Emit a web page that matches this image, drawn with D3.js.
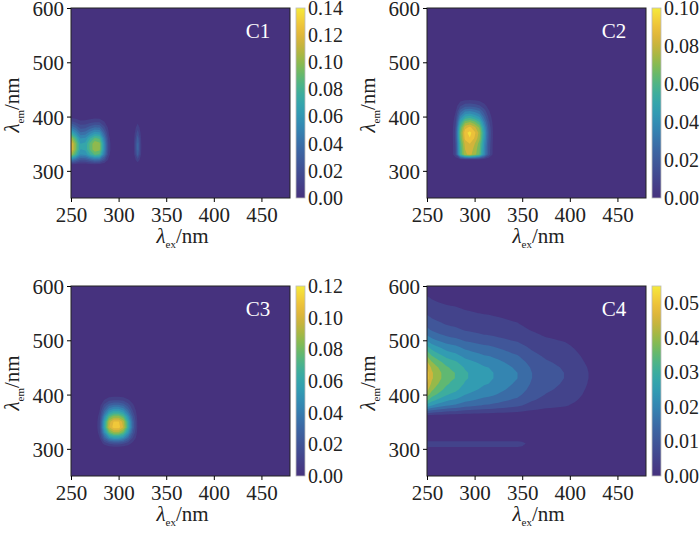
<!DOCTYPE html>
<html><head><meta charset="utf-8">
<script src="https://cdn.jsdelivr.net/npm/d3@7"></script>
<style>body{margin:0;background:#fff}svg text{font-family:"Liberation Serif","DejaVu Serif",serif !important}</style>
</head><body><svg id="chart" width="700" height="534"></svg>
<script>
// excitation grid 250..480 step 5, emission grid 250..600 step 10
const exWl = d3.range(250, 481, 5);
const emWl = d3.range(250, 601, 10);

// PARAFAC loadings (sparse: wavelength -> relative loading, missing = 0)
const c1Ex = {250:0.93,255:0.72,260:0.5,265:0.52,270:0.66,275:0.77,280:0.74,285:0.42,290:0.1,320:0.3};
const c1Em = {320:0.4,330:0.85,340:1,350:1,360:0.85,370:0.6,380:0.38,390:0.18,400:0.04};
const c2Ex = {280:0.18,285:0.7,290:0.95,295:1,300:0.92,305:0.8,310:0.5,315:0.22,320:0.05};
const c2Em = {330:0.85,340:0.87,350:0.9,360:0.97,370:1,380:0.92,390:0.75,400:0.55,410:0.38,420:0.2,430:0.08};
const c3Ex = {280:0.14,285:0.55,290:0.88,295:1,300:1,305:0.88,310:0.6,315:0.28,320:0.06};
const c3Em = {310:0.18,320:0.5,330:0.8,340:1,350:0.97,360:0.76,370:0.52,380:0.32,390:0.14,400:0.03};
const c4Ex = {250:1,255:0.88,260:0.82,265:0.77,270:0.72,275:0.69,280:0.67,285:0.63,290:0.59,295:0.57,300:0.55,305:0.53,310:0.51,315:0.5,320:0.48,325:0.46,330:0.44,335:0.42,340:0.4,345:0.385,350:0.35,355:0.32,360:0.29,365:0.27,370:0.25,375:0.23,380:0.22,385:0.21,390:0.2,395:0.19,400:0.17,405:0.15,410:0.13,415:0.11,420:0.095,425:0.03};
const c4Em = {360:0.05,370:0.3,380:0.55,390:0.7,400:0.82,410:0.9,420:0.96,430:1,440:1,450:0.96,460:0.88,470:0.78,480:0.68,490:0.58,500:0.47,510:0.38,520:0.31,530:0.26,540:0.22,550:0.18,560:0.15,570:0.12,580:0.1,590:0.02};
const c4sEx = {250:1,255:1,260:1,265:1,270:1,275:1,280:1,285:1,290:1,295:1,300:1,305:1,310:1,315:1,320:1,325:1,330:1,335:1,340:1,345:1,350:0.9,355:0.5};
const c4sEm = {300:0.06,310:0.16};

const names = ["C1", "C2", "C3", "C4"];
const scales = [0.14, 0.1, 0.115, 0.052];
const cbMax = [0.14, 0.1, 0.12, 0.055];
const levelStep = [0.01, 0.0075, 0.0085, 0.005];
const cbTicks = [
  [0, 0.02, 0.04, 0.06, 0.08, 0.10, 0.12, 0.14],
  [0, 0.02, 0.04, 0.06, 0.08, 0.10],
  [0, 0.02, 0.04, 0.06, 0.08, 0.10, 0.12],
  [0, 0.01, 0.02, 0.03, 0.04, 0.05]];
const loadings = [[[c1Ex, c1Em]], [[c2Ex, c2Em]], [[c3Ex, c3Em]], [[c4Ex, c4Em], [c4sEx, c4sEm]]];

// colour map as seen on the colour bars
const cmapStops = ["#46327e", "#424d93", "#3a6ea8", "#2f98bb", "#37b39f", "#8cbf3e", "#f0a83a", "#f5ea3a"];
const cmap = d3.interpolateRgbBasis(cmapStops);

const svg = d3.select("#chart");
const defs = svg.append("defs");
const W = 219, H = 190;
const origins = [[71, 8], [427, 8], [71, 286], [427, 286]];
const nx = exWl.length, ny = emWl.length;

loadings.forEach((pairs, k) => {
  const [ox, oy] = origins[k];
  const g = svg.append("g").attr("transform", `translate(${ox},${oy})`);
  const x = d3.scaleLinear().domain([250, 480]).range([0, W]);
  const y = d3.scaleLinear().domain([250, 600]).range([H, 0]);

  const values = new Array(nx * ny);
  for (let j = 0; j < ny; j++) for (let i = 0; i < nx; i++) {
    let v = 0;
    pairs.forEach(([ex, em]) => { v += (ex[exWl[i]] || 0) * (em[emWl[j]] || 0); });
    values[j * nx + i] = v * scales[k];
  }
  const thr = d3.range(0, cbMax[k] + 1e-9, levelStep[k]);
  const color = v => cmap(Math.min(1, v / cbMax[k]));
  const proj = d3.geoTransform({point: function(px, py) {
    this.stream.point(x(exWl[0] + (px - 0.5) * 5), y(emWl[0] + (py - 0.5) * 10));
  }});
  const path = d3.geoPath(proj);
  const clipId = "clip" + k;
  defs.append("clipPath").attr("id", clipId).append("rect").attr("width", W).attr("height", H);
  const cg = g.append("g").attr("clip-path", `url(#${clipId})`);
  cg.append("rect").attr("width", W).attr("height", H).attr("fill", color(0));
  cg.selectAll("path").data(d3.contours().size([nx, ny]).thresholds(thr.slice(1))(values))
    .join("path").attr("d", path)
    .attr("fill", d => color(d.value));

  g.append("rect").attr("width", W).attr("height", H).attr("fill", "none").attr("stroke", "#222").attr("stroke-width", 1);
  g.append("g").attr("transform", `translate(0,${H})`)
    .call(d3.axisBottom(x).tickValues([250, 300, 350, 400, 450]).tickSize(4).tickSizeOuter(0))
    .call(a => a.select(".domain").remove())
    .call(a => a.selectAll("text").attr("font-size", 21).attr("fill", "#222").attr("dy", "0.8em"));
  g.append("g")
    .call(d3.axisLeft(y).tickValues([300, 400, 500, 600]).tickSize(4).tickSizeOuter(0))
    .call(a => a.select(".domain").remove())
    .call(a => a.selectAll("text").attr("font-size", 21).attr("fill", "#222").attr("dy", "0.36em"));

  g.append("text").attr("x", W - 32).attr("y", 30).attr("text-anchor", "middle")
    .attr("font-size", 21).attr("fill", "#fff").text(names[k]);

  // axis labels
  const xl = g.append("text").attr("x", W / 2 + 2).attr("y", H + 45).attr("text-anchor", "middle").attr("font-size", 21).attr("fill", "#222");
  xl.append("tspan").attr("font-style", "italic").text("λ");
  xl.append("tspan").attr("font-size", 11).attr("dy", 5).text("ex");
  xl.append("tspan").attr("dy", -5).text("/nm");
  const yl = g.append("text").attr("transform", `translate(-52,${H / 2 + 2}) rotate(-90)`).attr("text-anchor", "middle").attr("font-size", 21).attr("fill", "#222");
  yl.append("tspan").attr("font-style", "italic").text("λ");
  yl.append("tspan").attr("font-size", 11).attr("dy", 5).text("em");
  yl.append("tspan").attr("dy", -5).text("/nm");

  // colorbar
  const gid = "grad" + k;
  const grad = defs.append("linearGradient").attr("id", gid).attr("x1", 0).attr("y1", 1).attr("x2", 0).attr("y2", 0);
  d3.range(0, 1.001, 0.05).forEach(t => grad.append("stop").attr("offset", t).attr("stop-color", cmap(t)));
  const cb = g.append("g").attr("transform", `translate(${W + 6},0)`);
  cb.append("rect").attr("width", 9).attr("height", H).attr("fill", `url(#${gid})`).attr("stroke", "#bbb").attr("stroke-width", 0.8);
  const cy = d3.scaleLinear().domain([0, cbMax[k]]).range([H, 0]);
  cb.append("g").attr("transform", "translate(9,0)")
    .call(d3.axisRight(cy).tickValues(cbTicks[k]).tickFormat(d3.format(".2f")).tickSize(0).tickPadding(3))
    .call(a => a.select(".domain").remove())
    .call(a => a.selectAll("text").attr("font-size", 20).attr("fill", "#222"));
});
</script></body></html>
